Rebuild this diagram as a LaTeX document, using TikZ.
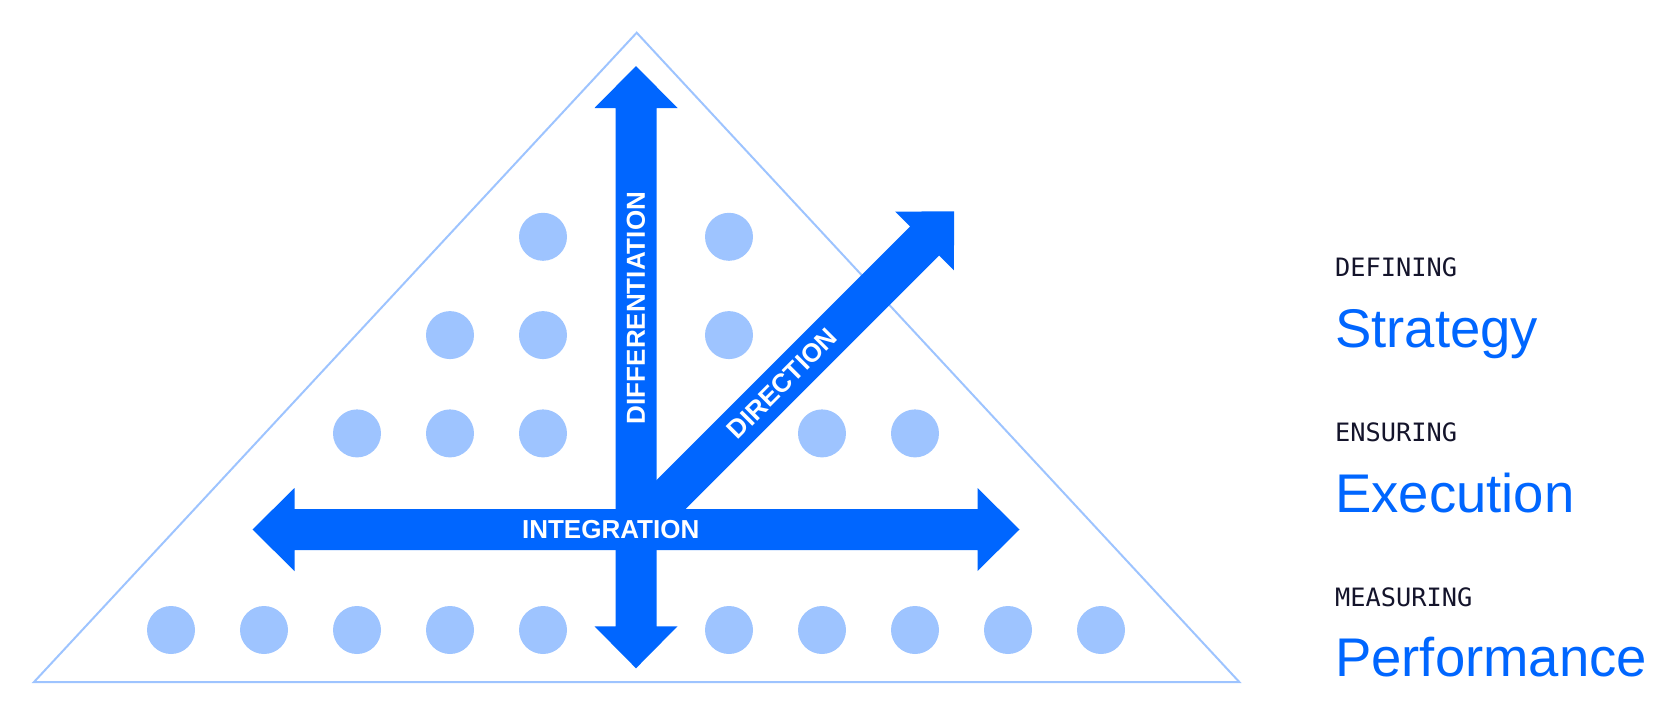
\documentclass[tikz,border=0pt]{standalone}
\usepackage{fontspec}
\setmainfont{Liberation Sans}
\newfontfamily\kickmono{DejaVu Sans Mono}
\definecolor{pyrblue}{HTML}{0066FF}
\definecolor{pyrlight}{HTML}{9EC4FF}
\definecolor{pyrink}{HTML}{14142B}
\usetikzlibrary{positioning}
\tikzset{
  dot/.style={circle,fill=pyrlight,minimum size=4.8mm,inner sep=0pt},
  axislbl/.style={text=white,inner sep=0pt,
                  font=\bfseries\fontsize{7.4}{9}\selectfont},
  kicker/.style={anchor=base west,inner sep=0pt,text=pyrink,
                 font=\kickmono\fontsize{7.2}{9}\selectfont},
  pillar/.style={anchor=base west,inner sep=0pt,text=pyrblue,
                 font=\fontsize{15.5}{18}\selectfont},
}

\begin{document}
\begin{tikzpicture}
  \useasboundingbox (0,0) rectangle (16.79,7.15);

  \def\shaft{0.205}
  \def\headw{0.415}
  \def\headl{0.42}
  \coordinate (ctr) at (6.36,1.855);

  %% Pyramid outline
  \draw[pyrlight,line width=0.02cm]
    (6.367,6.823) -- (0.34,0.33) -- (12.393,0.33) -- cycle;

  %% Dots on the grid
  \foreach \k/\j [count=\i] in {
    -1/4, 1/4,
    -2/3, -1/3, 1/3,
    -3/2, -2/2, -1/2, 2/2, 3/2,
    -5/0, -4/0, -3/0, -2/0, -1/0, 1/0, 2/0, 3/0, 4/0, 5/0}{
    \node[dot] (dot\i) at ({6.36+0.93*\k},{0.85+0.983*\j}) {};
  }

  %% Integration (horizontal, both ways)
  \begin{scope}[shift={(ctr)}]
    \fill[pyrblue]
      (-3.835,0) -- ++(\headl,\headw) -- ++(0,-\headw+\shaft)
      -- (3.835-\headl,\shaft) -- ++(0,\headw-\shaft) -- (3.835,0)
      -- (3.835-\headl,-\headw) -- ++(0,\headw-\shaft)
      -- (-3.835+\headl,-\shaft) -- ++(0,-\headw+\shaft) -- cycle;
  \end{scope}

  %% Differentiation (vertical, both ways)
  \begin{scope}[shift={(ctr)}]
    \fill[pyrblue]
      (0,4.635) -- ++(\headw,-\headl) -- ++(-\headw+\shaft,0)
      -- (\shaft,-1.388+\headl) -- ++(\headw-\shaft,0) -- (0,-1.388)
      -- (-\headw,-1.388+\headl) -- ++(\headw-\shaft,0)
      -- (-\shaft,4.635-\headl) -- ++(-\headw+\shaft,0) -- cycle;
  \end{scope}

  %% Direction (diagonal, one way)
  \begin{scope}[shift={(ctr)},rotate=45]
    \fill[pyrblue]
      (0,-\shaft) -- (4.50-\headl,-\shaft) -- (4.50-\headl,-\headw)
      -- (4.50,0) -- (4.50-\headl,\headw) -- (4.50-\headl,\shaft)
      -- (0,\shaft) -- cycle;
  \end{scope}

  %% Axis labels
  \node[axislbl] (integ) at (6.107,1.855) {INTEGRATION};
  \node[axislbl,rotate=90] (diff) at (6.36,4.07) {DIFFERENTIATION};
  \node[axislbl,rotate=45] (dirn) at (7.82,3.315) {DIRECTION};

  %% Right hand column
  \foreach \kick/\word/\yk/\yw [count=\i] in {
    DEFINING/Strategy/4.383/3.677,
    ENSURING/Execution/2.733/2.023,
    MEASURING/Performance/1.083/0.383}{
    \node[kicker] (kick\i) at (13.345,\yk) {\kick};
    \node[pillar] (word\i) at (13.345,\yw) {\word};
  }

\end{tikzpicture}
\end{document}
